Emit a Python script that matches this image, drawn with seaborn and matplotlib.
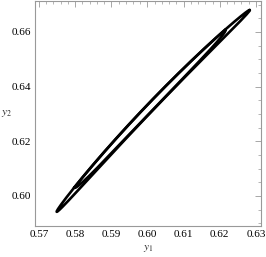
import numpy as np
import pandas as pd
import matplotlib
matplotlib.use("Agg")
import matplotlib.pyplot as plt
import seaborn as sns
from matplotlib.ticker import MultipleLocator

sns.set_style("white")
plt.rcParams['font.family'] = ['Liberation Serif', 'DejaVu Serif']
plt.rcParams['mathtext.fontset'] = 'stix'

# Closed orbit: the two tips of the outer loop (y1, y2),
# how far the loop bows and how wide it is (pixels), and where the inner loop turns.
tip_y1 = [0.5749, 0.6283]
tip_y2 = [0.5942, 0.6680]
bow_px = 4.6
halfwidth_px = 3.8
inner_turn = [-0.79, 0.78]

xticks = [0.57, 0.58, 0.59, 0.60, 0.61, 0.62, 0.63]
yticks = [0.60, 0.62, 0.64, 0.66]
xlim = (0.5689, 0.6314)
ylim = (0.5890, 0.6713)

fig = plt.figure(figsize=(2.66, 2.57), dpi=100)
ax = fig.add_axes([35/266, 1-226/257, 226/266, 225/257])

sx = 226.0 / (xlim[1] - xlim[0])
sy = 225.0 / (ylim[1] - ylim[0])

# chord geometry in pixel space
ax_px = (tip_y1[1] - tip_y1[0]) / 2 * sx
ay_px = (tip_y2[1] - tip_y2[0]) / 2 * sy
L = np.hypot(ax_px, ay_px)
ux, uy = ax_px / L, ay_px / L
vx, vy = -uy, ux            # perpendicular, towards upper-left
cx, cy = np.mean(tip_y1), np.mean(tip_y2)


def to_data(s, off):
    px = L * s * ux + off * vx
    py = L * s * uy + off * vy
    return cx + px / sx, cy + py / sy


def width(s):
    return halfwidth_px * np.sqrt(np.clip(1 - s**2, 0, None))


frames = []
t = np.linspace(0, 2 * np.pi, 500)
s = np.cos(t)
off = bow_px * (1 - s**2) + halfwidth_px * np.sin(t)
x, y = to_data(s, off)
frames.append(pd.DataFrame({"y1": x, "y2": y, "loop": "outer"}))

# inner loop: upper side follows outer upper side, lower side joins outer lower side in middle
s_lo, s_hi = inner_turn
su = np.linspace(s_lo, s_hi, 250)
upper = bow_px * (1 - su**2) + width(su)
mid = (s_lo + s_hi) / 2
half = (s_hi - s_lo) / 2
sl = su[::-1]
lower = (bow_px * (1 - sl**2) + width(sl)
         - 2 * halfwidth_px * np.sqrt(np.clip(1 - ((sl - mid) / half)**2, 0, None)) * 0.97)
s_in = np.concatenate([su, sl, su[:1]])
off_in = np.concatenate([upper, lower, upper[:1]])
x, y = to_data(s_in, off_in)
frames.append(pd.DataFrame({"y1": x, "y2": y, "loop": "inner"}))

df = pd.concat(frames, ignore_index=True)

sns.lineplot(data=df, x="y1", y="y2", units="loop", estimator=None, sort=False,
             color="black", lw=1.9, ax=ax)

ax.set_xlim(*xlim)
ax.set_ylim(*ylim)
ax.set_xticks(xticks)
ax.set_yticks(yticks)
ax.set_xticklabels([f"{v:.2f}" for v in xticks])
ax.set_yticklabels([f"{v:.2f}" for v in yticks])
ax.xaxis.set_minor_locator(MultipleLocator(0.002))
ax.yaxis.set_minor_locator(MultipleLocator(0.005))
ax.tick_params(which='both', direction='in', top=True, right=True, colors='#999999',
               labelcolor='black', labelsize=8, pad=3)
ax.tick_params(which='major', length=4, width=0.6)
ax.tick_params(which='minor', length=2, width=0.5)
for sp in ax.spines.values():
    sp.set_color('#999999')
    sp.set_linewidth(0.8)

ax.set_xlabel(r"$y_1$", fontsize=8, va='center')
ax.xaxis.set_label_coords(0.5, -0.102)
ax.set_ylabel(r"$y_2$", fontsize=8, rotation=0, va='center', ha='center')
ax.yaxis.set_label_coords(-0.125, 0.5)

fig.savefig("out.png", dpi=100)
